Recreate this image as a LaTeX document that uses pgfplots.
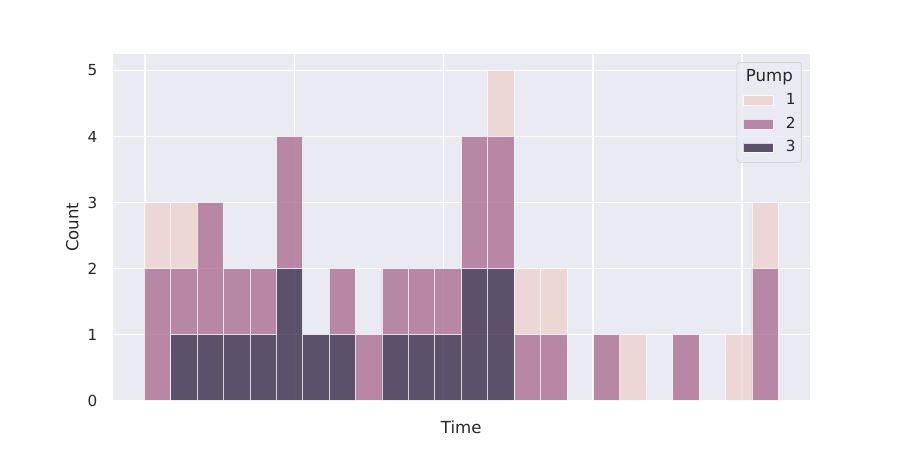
\documentclass[border=0pt]{standalone}
\usepackage{fontspec}
\setmainfont{DejaVu Sans}
\usepackage{pgfplots}
\pgfplotsset{compat=1.18}
\definecolor{bgc}{HTML}{EAEAF2}
\definecolor{pumpA}{HTML}{EDD1CB}
\definecolor{pumpB}{HTML}{A9668D}
\definecolor{pumpC}{HTML}{2D1E3E}
\definecolor{txt}{HTML}{262626}
\begin{document}
\begin{tikzpicture}
\useasboundingbox (0,0) rectangle (648bp,324bp);
\begin{axis}[
  at={(81bp,35.64bp)}, anchor=south west,
  width=502.2bp, height=249.48bp, scale only axis,
  xmin=-1.2, xmax=25.2, ymin=0, ymax=5.25,
  axis line style={draw=none},
  axis background/.style={fill=bgc},
  grid=major,
  major grid style={white, line width=1bp},
  major tick length=0pt,
  xtick={0.03,5.68,11.33,16.98,22.63},
  xticklabels={},
  ytick={0,1,2,3,4,5},
  tick label style={font=\fontsize{11}{13}\selectfont, text=txt},
  /pgf/number format/assume math mode=true,
  yticklabel style={inner sep=0pt, xshift=-10.8bp},
  xlabel={Time}, ylabel={Count},
  label style={font=\fontsize{12}{14}\selectfont, text=txt},
  xlabel style={at={(axis description cs:0.5,-0.0954)}, anchor=base},
  ylabel style={at={(axis description cs:-0.0488,0.5)}, anchor=base, rotate=0},
  ybar stacked, bar width=1,
  legend style={at={(axis description cs:1,1)}, anchor=north east, xshift=-5.8bp, yshift=-5.8bp,
    draw=black!20, fill=bgc, fill opacity=0.8, draw opacity=1, text opacity=1,
    rounded corners=2.5bp, inner xsep=4.4bp, inner ysep=5bp,
    font=\fontsize{11}{13}\selectfont, text=txt, row sep=6bp,
    nodes={inner sep=0pt, text height=8.5bp, text depth=2.5bp},
    /tikz/every odd column/.style={column sep=8.8bp}},
  legend cell align=left,
]
\addlegendimage{empty legend}
\addlegendentry{\hspace*{-28.8bp}\fontsize{12}{14}\selectfont Pump}
\addlegendimage{legend image code/.code={\draw[sharp corners, opacity=0.75, fill=pumpA, draw=white, line width=0.5bp] (0bp,-3.4bp) rectangle (21.6bp,3.4bp);}}
\addlegendentry{1}
\addlegendimage{legend image code/.code={\draw[sharp corners, opacity=0.75, fill=pumpB, draw=white, line width=0.5bp] (0bp,-3.4bp) rectangle (21.6bp,3.4bp);}}
\addlegendentry{2}
\addlegendimage{legend image code/.code={\draw[sharp corners, opacity=0.75, fill=pumpC, draw=white, line width=0.5bp] (0bp,-3.4bp) rectangle (21.6bp,3.4bp);}}
\addlegendentry{3}
% Pump 3 (bottom of stack)
\addplot[forget plot, fill=pumpC, draw=white, line width=0.5bp, opacity=0.75]
  coordinates {(0.5,0) (1.5,1) (2.5,1) (3.5,1) (4.5,1) (5.5,2) (6.5,1) (7.5,1) (8.5,0) (9.5,1) (10.5,1) (11.5,1)
               (12.5,2) (13.5,2) (14.5,0) (15.5,0) (16.5,0) (17.5,0) (18.5,0) (19.5,0) (20.5,0) (21.5,0) (22.5,0) (23.5,0)};
% Pump 2
\addplot[forget plot, fill=pumpB, draw=white, line width=0.5bp, opacity=0.75]
  coordinates {(0.5,2) (1.5,1) (2.5,2) (3.5,1) (4.5,1) (5.5,2) (6.5,0) (7.5,1) (8.5,1) (9.5,1) (10.5,1) (11.5,1)
               (12.5,2) (13.5,2) (14.5,1) (15.5,1) (16.5,0) (17.5,1) (18.5,0) (19.5,0) (20.5,1) (21.5,0) (22.5,0) (23.5,2)};
% Pump 1 (top of stack)
\addplot[forget plot, fill=pumpA, draw=white, line width=0.5bp, opacity=0.75]
  coordinates {(0.5,1) (1.5,1) (2.5,0) (3.5,0) (4.5,0) (5.5,0) (6.5,0) (7.5,0) (8.5,0) (9.5,0) (10.5,0) (11.5,0)
               (12.5,0) (13.5,1) (14.5,1) (15.5,1) (16.5,0) (17.5,0) (18.5,1) (19.5,0) (20.5,0) (21.5,0) (22.5,1) (23.5,1)};
\end{axis}
\end{tikzpicture}
\end{document}
